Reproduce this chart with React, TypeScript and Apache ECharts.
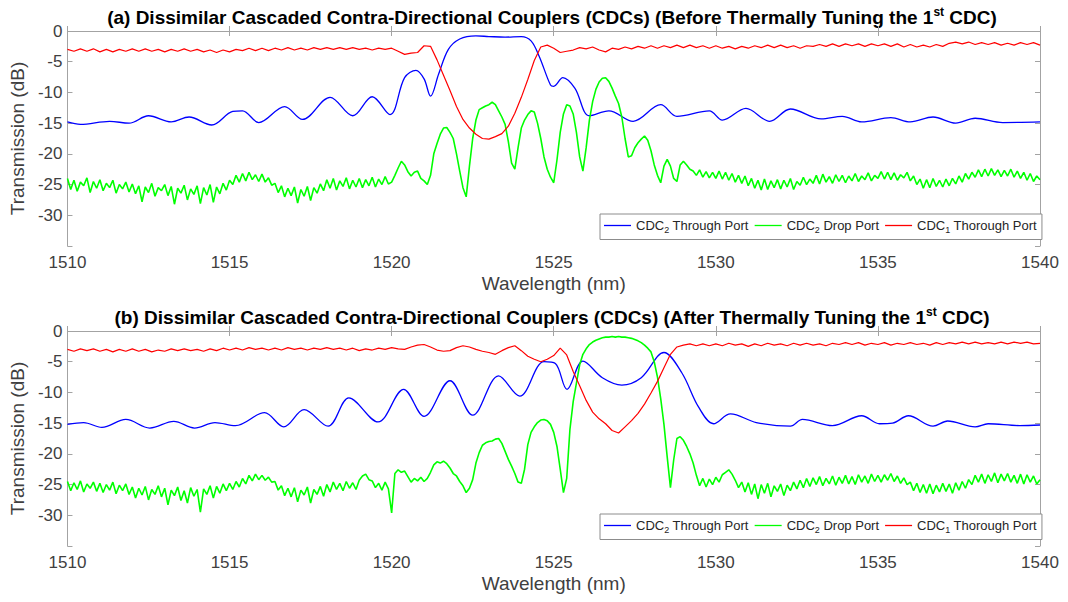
import React, { useEffect, useRef } from "react";
import * as echarts from "echarts";

// ---------- data ----------
const WL_MIN = 1510;
const WL_MAX = 1540;
const WL_TICK = 5;
const DB_MIN = -35;
const DB_MAX = 0;
const DB_TICK = 5;

const RED_START = 1510;
const RED_STEP = 0.2;
const GREEN_START = 1510;
const GREEN_STEP = 0.1;

const SERIES_NAMES = ["CDC2 Through Port", "CDC2 Drop Port", "CDC1 Thorough Port"];
const TITLE_A = "(a) Dissimilar Cascaded Contra-Directional Couplers (CDCs) (Before Thermally Tuning the 1{sup|st} CDC)";
const TITLE_B = "(b) Dissimilar Cascaded Contra-Directional Couplers (CDCs) (After Thermally Tuning the 1{sup|st} CDC)";

// Panel (a) – CDC2 through port (blue), [wavelength, dB]
const blueA: number[][] = [
  [1510, -14.8], [1510.4, -15.2], [1511.3, -14.7], [1511.9, -15.0], [1512.5, -13.8], [1513.2, -14.8],
  [1513.75, -14.0], [1514.45, -15.3], [1515.1, -13.1], [1515.4, -13.0], [1515.9, -14.9], [1516.7, -12.3],
  [1517.25, -14.4], [1518.1, -10.8], [1518.8, -13.8], [1519.4, -10.7], [1519.95, -13.6], [1520.4, -7.6],
  [1520.75, -6.4], [1521.0, -7.8], [1521.2, -10.6], [1521.45, -7.0], [1521.75, -3.0], [1522.1, -1.3],
  [1522.6, -0.8], [1523.0, -0.9], [1523.5, -1.0], [1524.0, -0.9], [1524.3, -1.6], [1524.55, -4.1],
  [1524.9, -8.8], [1525.0, -9.0], [1525.28, -7.6], [1525.65, -9.3], [1526.1, -13.8], [1526.7, -13.0],
  [1527.45, -14.7], [1528.3, -12.0], [1528.8, -13.9], [1529.8, -13.0], [1530.2, -14.5], [1530.93, -12.6],
  [1531.66, -14.7], [1532.3, -12.7], [1533.25, -14.3], [1533.9, -13.9], [1534.5, -14.8], [1535.4, -14.1],
  [1536.0, -14.8], [1536.7, -14.0], [1537.4, -15.0], [1538.0, -14.2], [1538.85, -14.9], [1540, -14.8],
];

// Panel (a) – CDC2 drop port (green), every 0.1 nm from 1510.0
const greenA: number[] = [
  -24.0, -25.8, -24.3, -26.1, -24.6, -25.2, -23.9, -26.3, -24.5, -25.6, // 1510
  -24.2, -26.0, -24.8, -25.5, -24.3, -26.4, -25.0, -25.7, -24.6, -26.2, // 1511
  -24.9, -26.5, -25.2, -27.8, -25.4, -26.3, -24.8, -26.9, -25.5, -26.0, // 1512
  -25.0, -26.8, -25.3, -28.2, -25.6, -26.4, -25.1, -27.5, -25.7, -26.6, // 1513
  -25.2, -28.1, -25.5, -26.7, -25.0, -27.9, -25.4, -26.5, -24.8, -25.9, // 1514
  -24.3, -25.0, -23.5, -24.6, -23.2, -24.4, -23.0, -24.2, -23.4, -24.5, // 1515
  -23.3, -24.6, -23.9, -25.1, -24.8, -26.3, -25.2, -27.0, -25.6, -26.8, // 1516
  -25.4, -28.0, -25.8, -26.9, -25.3, -27.6, -25.5, -26.4, -24.9, -26.0, // 1517
  -24.2, -25.6, -24.0, -25.9, -24.4, -25.3, -23.9, -25.7, -24.3, -25.4, // 1518
  -24.0, -25.5, -24.2, -25.2, -23.8, -25.4, -24.1, -25.0, -23.7, -24.9, // 1519
  -24.6, -23.5, -22.3, -21.2, -21.8, -22.9, -23.6, -23.0, -22.8, -24.0, // 1520
  -24.4, -25.0, -23.5, -20.0, -18.3, -16.8, -15.8, -15.7, -16.5, -17.5, // 1521
  -20.0, -22.8, -25.5, -27.0, -22.0, -17.5, -14.5, -12.8, -12.5, -12.2, // 1522
  -12.0, -11.6, -12.0, -13.0, -14.0, -15.2, -18.0, -21.5, -22.5, -19.0, // 1523
  -15.8, -14.5, -13.6, -13.0, -13.2, -15.0, -17.5, -20.5, -22.5, -23.8, // 1524
  -24.7, -21.0, -16.5, -13.5, -12.0, -12.2, -13.5, -16.5, -20.5, -22.8, // 1525
  -19.0, -14.5, -11.5, -9.5, -8.3, -7.7, -7.6, -8.2, -9.3, -10.6, // 1526
  -11.8, -14.0, -17.5, -20.5, -20.3, -19.0, -18.2, -17.6, -17.1, -17.8, // 1527
  -19.5, -21.8, -23.5, -24.7, -22.0, -20.9, -22.0, -24.0, -24.5, -21.8, // 1528
  -21.2, -21.8, -22.5, -22.8, -23.5, -22.6, -23.8, -22.9, -23.9, -23.0, // 1529
  -24.0, -22.8, -24.1, -23.0, -24.3, -23.2, -24.6, -23.5, -24.8, -23.6, // 1530
  -25.2, -24.0, -25.6, -24.3, -25.9, -24.1, -25.8, -24.4, -25.5, -24.2, // 1531
  -25.7, -24.3, -25.4, -24.0, -25.8, -24.5, -25.1, -23.8, -25.0, -24.1, // 1532
  -24.8, -23.5, -24.9, -23.3, -24.6, -23.7, -24.8, -23.4, -24.5, -23.5, // 1533
  -24.7, -23.6, -24.4, -23.2, -24.5, -23.6, -24.2, -23.1, -24.4, -23.5, // 1534
  -24.0, -22.9, -24.1, -23.0, -24.2, -23.1, -24.3, -23.4, -23.9, -23.0, // 1535
  -24.4, -23.6, -25.0, -24.1, -25.6, -24.2, -25.5, -24.0, -25.3, -24.3, // 1536
  -25.4, -24.1, -25.2, -24.0, -24.9, -23.6, -24.6, -23.2, -24.1, -23.0, // 1537
  -23.8, -22.6, -23.7, -22.5, -23.6, -22.4, -23.5, -22.6, -23.7, -22.7, // 1538
  -23.6, -22.5, -23.8, -22.8, -24.0, -23.0, -24.3, -23.2, -24.5, -23.6, // 1539
  -24.2, // 1540
];

// Panel (a) – CDC1 through port (red), every 0.2 nm from 1510.0
const redA: number[] = [
  -3.0, -3.3, -2.9, -3.3, -2.9, -3.4, -3.0, -3.4, -3.0, -3.3, // 1510
  -2.9, -3.3, -2.9, -3.3, -3.0, -3.4, -3.0, -3.3, -2.9, -3.3, // 1512
  -3.0, -3.4, -3.1, -3.5, -3.1, -3.4, -3.0, -3.2, -2.8, -3.2, // 1514
  -2.8, -3.2, -2.8, -3.1, -2.7, -3.1, -2.8, -3.1, -2.7, -3.0, // 1516
  -2.7, -3.0, -2.7, -3.0, -2.7, -3.0, -2.8, -3.1, -2.8, -3.0, // 1518
  -2.8, -3.3, -3.8, -3.6, -3.5, -2.4, -2.5, -4.7, -7.2, -9.7, // 1520
  -12.3, -14.4, -15.8, -16.8, -17.5, -17.6, -17.2, -16.7, -15.5, -13.4, // 1522
  -10.8, -7.9, -4.8, -2.6, -2.3, -2.8, -3.5, -3.3, -3.1, -2.7, // 1524
  -2.9, -2.6, -3.1, -3.4, -2.8, -3.0, -2.6, -2.9, -2.5, -2.8, // 1526
  -2.4, -2.8, -2.4, -2.7, -2.3, -2.7, -2.3, -2.7, -2.4, -2.8, // 1528
  -2.4, -2.8, -2.5, -2.9, -2.5, -2.8, -2.4, -2.7, -2.3, -2.7, // 1530
  -2.3, -2.7, -2.4, -2.8, -2.4, -2.5, -2.2, -2.5, -2.1, -2.5, // 1532
  -2.1, -2.4, -2.1, -2.5, -2.1, -2.4, -2.1, -2.5, -2.1, -2.6, // 1534
  -2.2, -2.6, -2.3, -2.6, -2.2, -2.5, -2.0, -1.8, -2.1, -1.8, // 1536
  -2.2, -1.9, -2.2, -1.9, -2.3, -2.0, -2.3, -1.9, -2.2, -1.9, // 1538
  -2.3, // 1540
];

// Panel (b) – CDC2 through port (blue)
const blueB: number[][] = [
  [1510, -15.2], [1510.5, -14.9], [1511.06, -15.7], [1511.8, -14.4], [1512.54, -15.8], [1513.28, -14.7],
  [1513.92, -15.8], [1514.55, -14.9], [1515.18, -15.4], [1516.08, -13.3], [1516.67, -15.6], [1517.3, -12.8],
  [1518.04, -15.5], [1518.68, -10.9], [1519.58, -14.8], [1520.37, -9.5], [1521.0, -13.9], [1521.8, -8.1],
  [1522.5, -13.7], [1523.3, -7.3], [1523.95, -10.6], [1524.7, -5.0], [1525.05, -5.3], [1525.41, -9.5],
  [1525.9, -4.9], [1526.5, -7.6], [1527.1, -8.8], [1527.7, -7.6], [1528.4, -3.5], [1528.95, -6.8],
  [1529.47, -12.4], [1529.93, -15.1], [1530.45, -13.5], [1531.25, -14.9], [1532.3, -15.5], [1532.67, -14.4],
  [1533.6, -15.4], [1534.5, -13.8], [1535.05, -15.1], [1535.45, -15.0], [1535.94, -13.8], [1536.7, -15.5],
  [1537.15, -14.65], [1538.0, -15.6], [1538.4, -15.1], [1539.37, -15.4], [1540, -15.3],
];

// Panel (b) – CDC2 drop port (green), every 0.1 nm from 1510.0
const greenB: number[] = [
  -24.5, -26.0, -24.7, -25.8, -24.4, -26.2, -24.9, -25.6, -24.6, -26.1, // 1510
  -24.8, -26.3, -25.0, -25.9, -24.6, -26.5, -25.1, -26.0, -24.9, -26.6, // 1511
  -25.4, -27.2, -25.6, -26.7, -25.3, -27.5, -25.8, -26.6, -25.2, -27.0, // 1512
  -25.6, -28.3, -25.9, -26.8, -25.4, -27.6, -26.0, -28.0, -25.5, -26.9, // 1513
  -25.8, -29.5, -25.7, -26.6, -25.2, -27.2, -25.3, -26.4, -24.9, -26.0, // 1514
  -24.8, -25.8, -24.5, -25.4, -24.0, -24.9, -23.5, -24.4, -23.3, -24.2, // 1515
  -23.5, -24.3, -23.8, -24.6, -24.5, -25.9, -25.2, -26.8, -25.6, -27.0, // 1516
  -25.5, -27.8, -25.9, -26.7, -25.4, -28.0, -25.8, -26.6, -25.3, -26.9, // 1517
  -25.0, -26.2, -24.6, -25.8, -24.8, -26.0, -24.5, -25.6, -24.7, -25.8, // 1518
  -24.3, -23.6, -23.3, -24.2, -24.4, -25.5, -24.8, -25.9, -24.6, -25.7, // 1519
  -29.6, -23.2, -22.6, -23.0, -22.8, -23.7, -24.6, -24.0, -24.4, -23.8, // 1520
  -24.5, -24.0, -23.0, -21.8, -21.3, -21.5, -21.2, -21.6, -22.3, -23.2, // 1521
  -23.6, -24.5, -25.2, -26.3, -25.6, -24.2, -21.5, -19.8, -18.6, -18.2, // 1522
  -18.0, -17.9, -17.6, -17.5, -18.3, -19.6, -20.9, -22.0, -23.2, -24.6, // 1523
  -24.8, -22.5, -18.5, -16.5, -15.6, -14.9, -14.5, -14.4, -14.6, -15.2, // 1524
  -16.5, -18.8, -22.5, -26.3, -24.0, -16.0, -11.5, -8.5, -5.5, -3.8, // 1525
  -2.9, -2.2, -1.8, -1.5, -1.3, -1.1, -1.0, -1.0, -0.9, -1.0, // 1526
  -0.9, -1.0, -1.0, -1.1, -1.2, -1.4, -1.6, -1.9, -2.3, -2.8, // 1527
  -3.4, -5.0, -7.5, -11.0, -15.2, -20.5, -25.5, -21.0, -17.5, -17.2, // 1528
  -17.8, -18.8, -20.0, -21.5, -23.5, -25.2, -24.0, -25.4, -24.1, -25.0, // 1529
  -23.8, -24.6, -23.4, -23.0, -22.6, -23.3, -24.3, -25.5, -24.6, -26.2, // 1530
  -24.7, -26.6, -24.9, -27.3, -25.0, -26.4, -24.8, -27.0, -25.2, -26.1, // 1531
  -24.9, -26.8, -25.1, -26.0, -24.6, -25.7, -24.3, -25.5, -24.0, -25.3, // 1532
  -23.9, -25.0, -23.7, -25.2, -24.0, -24.9, -23.6, -25.1, -23.8, -24.8, // 1533
  -23.5, -24.9, -23.7, -25.0, -23.4, -24.6, -23.6, -24.8, -23.3, -24.5, // 1534
  -23.5, -24.6, -23.4, -24.3, -23.2, -24.5, -23.6, -24.8, -23.9, -25.0, // 1535
  -24.6, -26.0, -24.8, -26.3, -25.0, -26.4, -24.9, -26.5, -25.1, -26.2, // 1536
  -24.8, -26.1, -24.9, -26.4, -24.7, -25.9, -24.5, -25.6, -24.2, -25.0, // 1537
  -23.5, -24.6, -23.3, -24.8, -23.4, -24.5, -23.1, -24.7, -23.3, -24.4, // 1538
  -23.2, -24.6, -23.5, -24.8, -23.3, -24.9, -23.4, -24.6, -23.6, -24.9, // 1539
  -24.2, // 1540
];

// Panel (b) – CDC1 through port (red), every 0.2 nm from 1510.0
const redB: number[] = [
  -3.0, -3.3, -2.9, -3.2, -2.9, -3.3, -3.0, -3.4, -3.0, -3.3, // 1510
  -2.9, -3.3, -3.0, -3.4, -3.1, -3.3, -2.9, -3.2, -2.9, -3.2, // 1512
  -3.0, -3.3, -2.9, -3.2, -2.8, -3.1, -2.8, -3.1, -2.7, -3.0, // 1514
  -2.8, -3.1, -2.8, -3.1, -2.7, -3.0, -2.8, -3.1, -2.8, -3.0, // 1516
  -2.7, -3.0, -2.8, -3.1, -2.8, -3.2, -2.9, -3.1, -2.8, -3.0, // 1518
  -2.7, -2.9, -3.0, -2.6, -2.3, -2.2, -2.6, -3.1, -3.3, -3.2, // 1520
  -2.7, -2.4, -2.6, -3.0, -3.3, -3.5, -3.8, -3.2, -2.7, -2.4, // 1522
  -3.2, -4.1, -4.6, -5.0, -4.6, -4.0, -2.8, -3.9, -6.6, -8.9, // 1524
  -11.3, -13.2, -14.3, -15.1, -16.2, -16.6, -15.6, -14.6, -13.4, -11.9, // 1526
  -10.1, -8.2, -6.0, -3.8, -2.6, -2.3, -2.1, -2.4, -2.1, -2.4, // 1528
  -2.1, -2.4, -2.0, -2.3, -2.1, -2.5, -2.1, -2.4, -2.0, -2.3, // 1530
  -2.1, -2.4, -2.0, -2.3, -2.0, -2.3, -2.1, -2.4, -2.0, -2.2, // 1532
  -1.9, -2.2, -1.9, -2.3, -2.0, -2.2, -1.9, -2.3, -2.0, -2.2, // 1534
  -1.9, -2.2, -2.0, -2.3, -1.9, -2.2, -1.9, -2.1, -1.8, -2.1, // 1536
  -1.8, -2.1, -1.9, -2.1, -1.8, -2.1, -1.8, -2.0, -1.8, -2.1, // 1538
  -2.0, // 1540
];

// ---------- chart ----------
const FONT = "'Liberation Sans', Arial, Helvetica, sans-serif";
const AXIS_COLOR = "#a3a3a3";
const LABEL_COLOR = "#404040";
const COLORS = ["#0000ff", "#00ff00", "#ff0000"];

const sampled = (vals: number[], start: number, step: number) =>
  vals.map((v, i) => [Math.round((start + i * step) * 100) / 100, v]);

const GRID_LEFT = 65;
const GRID_RIGHT = 28;
const GRID_H = 215;
const GRID_TOPS = [31, 331];

function buildOption() {
  const grids = GRID_TOPS.map((top) => ({ left: GRID_LEFT, right: GRID_RIGHT, top, height: GRID_H }));
  const tickStyle = { show: true, inside: true, length: 5, lineStyle: { color: AXIS_COLOR, width: 1 } };
  const lineStyle = { show: true, lineStyle: { color: AXIS_COLOR, width: 1 } };
  const xAxes: any[] = [];
  const yAxes: any[] = [];
  GRID_TOPS.forEach((_, g) => {
    xAxes.push({
      type: "value", gridIndex: g, min: WL_MIN, max: WL_MAX, interval: WL_TICK, position: "bottom",
      axisLine: lineStyle, axisTick: tickStyle, splitLine: { show: false },
      axisLabel: { color: LABEL_COLOR, fontSize: 17, margin: 8, fontFamily: FONT, formatter: (v: number) => String(v) },
      name: "Wavelength (nm)", nameLocation: "middle", nameGap: 28,
      nameTextStyle: { fontSize: 19, color: LABEL_COLOR, fontFamily: FONT },
    });
    xAxes.push({
      type: "value", gridIndex: g, min: WL_MIN, max: WL_MAX, interval: WL_TICK, position: "top",
      axisLine: lineStyle, axisTick: tickStyle, splitLine: { show: false }, axisLabel: { show: false },
    });
    yAxes.push({
      type: "value", gridIndex: g, min: DB_MIN, max: DB_MAX, interval: DB_TICK, position: "left",
      axisLine: lineStyle, axisTick: tickStyle, splitLine: { show: false },
      axisLabel: {
        color: LABEL_COLOR, fontSize: 17, margin: 5, fontFamily: FONT,
        formatter: (v: number) => (v === DB_MIN ? "" : String(v)),
      },
      name: "Transmission (dB)", nameLocation: "middle", nameGap: 31,
      nameTextStyle: { fontSize: 19, color: LABEL_COLOR, fontFamily: FONT },
    });
    yAxes.push({
      type: "value", gridIndex: g, min: DB_MIN, max: DB_MAX, interval: DB_TICK, position: "right",
      axisLine: lineStyle, axisTick: tickStyle, splitLine: { show: false }, axisLabel: { show: false },
    });
  });

  const panels = [
    { blue: blueA, green: greenA, red: redA },
    { blue: blueB, green: greenB, red: redB },
  ];
  const series: any[] = [];
  panels.forEach((p, g) => {
    const base = { type: "line", xAxisIndex: g * 2, yAxisIndex: g * 2, symbol: "none", showSymbol: false, silent: true };
    series.push({ ...base, name: SERIES_NAMES[0], data: p.blue, smooth: 0.35, lineStyle: { color: COLORS[0], width: 1.3 }, itemStyle: { color: COLORS[0] } });
    series.push({ ...base, name: SERIES_NAMES[1], data: sampled(p.green, GREEN_START, GREEN_STEP), lineStyle: { color: COLORS[1], width: 1.6 }, itemStyle: { color: COLORS[1] } });
    series.push({ ...base, name: SERIES_NAMES[2], data: sampled(p.red, RED_START, RED_STEP), lineStyle: { color: COLORS[2], width: 1.2 }, itemStyle: { color: COLORS[2] } });
  });

  const legendFmt = (name: string) => name.replace(/CDC(\d)/, "CDC{sub|$1}");
  const legends = GRID_TOPS.map((top) => ({
    left: 600, top: top + 183, orient: "horizontal", icon: "rect", itemWidth: 27, itemHeight: 1.3, itemGap: 6,
    padding: [5, 5, 5, 4], backgroundColor: "#ffffff", borderColor: "#8c8c8c", borderWidth: 1,
    data: SERIES_NAMES, formatter: legendFmt, selectedMode: false,
    textStyle: {
      fontSize: 13, color: "#262626", fontFamily: FONT,
      rich: { sub: { fontSize: 9, color: "#262626", fontFamily: FONT, padding: [9, 0, 0, 0] } },
    },
  }));

  const titleStyle = (text: string, y: number) => ({
    type: "text", x: 552, y, silent: true,
    style: {
      text, align: "center", verticalAlign: "middle",
      font: `bold 19px ${FONT}`, fill: "#000000",
      rich: { sup: { font: `bold 12px ${FONT}`, fill: "#000000", padding: [0, 0, 10, 0] } },
    },
  });

  return {
    animation: false,
    backgroundColor: "#ffffff",
    textStyle: { fontFamily: FONT },
    grid: grids,
    xAxis: xAxes,
    yAxis: yAxes,
    legend: legends,
    series,
    graphic: [titleStyle(TITLE_A, 17), titleStyle(TITLE_B, 317)],
  };
}

export default function App() {
  const ref = useRef<HTMLDivElement>(null);
  useEffect(() => {
    if (!ref.current) return;
    const chart = echarts.init(ref.current, undefined, { renderer: "svg" });
    chart.setOption(buildOption() as any);
    return () => chart.dispose();
  }, []);
  return <div ref={ref} style={{ position: "fixed", left: 0, top: 0, width: 1068, height: 602, background: "#fff" }} />;
}
